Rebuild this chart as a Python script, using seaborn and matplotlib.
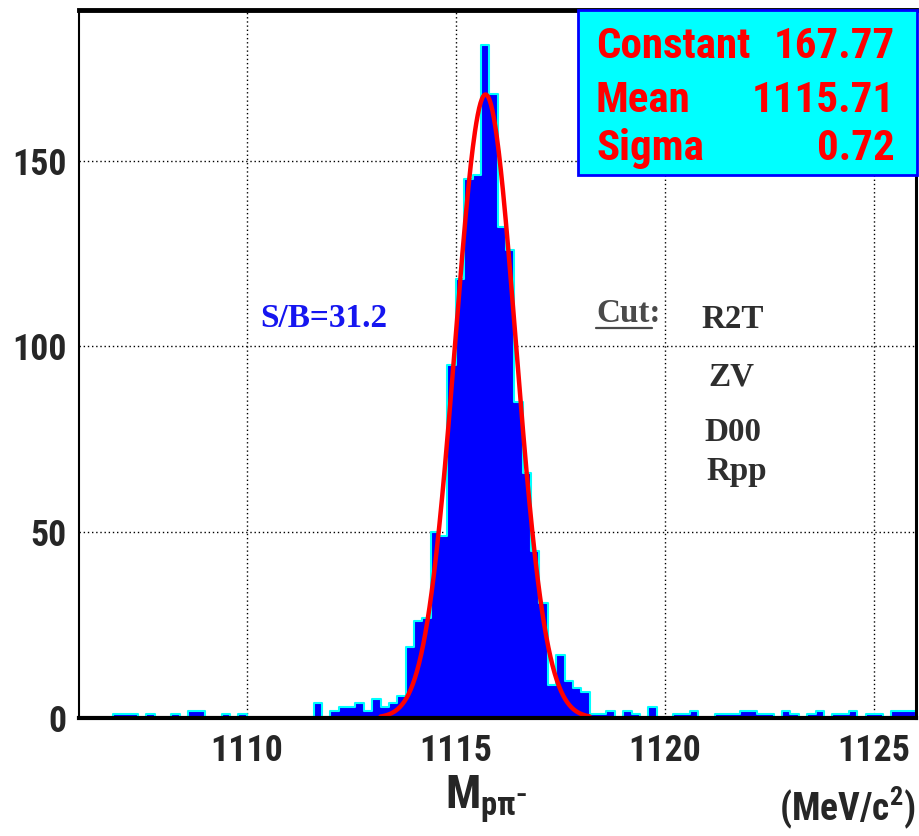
import numpy as np
import pandas as pd
import matplotlib
matplotlib.use("Agg")
import matplotlib.pyplot as plt
import seaborn as sns
from matplotlib import font_manager
from matplotlib.font_manager import FontProperties
from matplotlib.textpath import TextPath
from matplotlib.patches import Rectangle
from matplotlib.lines import Line2D

# histogram: 100 bins of 0.2 MeV from 1106 to 1126
x_lo, x_hi, n_bins = 1106.0, 1126.0, 100
counts = [0, 0, 0, 0, 1, 1, 1, 0, 1, 0,
          0, 1, 0, 2, 2, 0, 0, 1, 0, 1,
          0, 0, 0, 0, 0, 0, 0, 0, 4, 0,
          2, 3, 3, 4, 2, 5, 3, 4, 6, 19,
          26, 27, 50, 49, 95, 118, 145, 146, 181, 168,
          132, 126, 85, 66, 45, 31, 9, 17, 10, 8,
          7, 1, 1, 2, 0, 2, 1, 0, 3, 0,
          0, 1, 1, 2, 0, 0, 1, 1, 1, 2,
          2, 1, 1, 0, 2, 1, 0, 1, 2, 0,
          1, 1, 2, 0, 1, 1, 0, 2, 2, 2]

# gaussian fit shown in the stat box
fit_names = ["Constant", "Mean", "Sigma"]
fit_values = ["167.77", "1115.71", "0.72"]
fit_const, fit_mean, fit_sigma = 167.77, 1115.71, 0.72
fit_lo, fit_hi = 1113.2, 1118.2

cut_names = ["R2T", "ZV", "D00", "Rpp"]

edges = np.linspace(x_lo, x_hi, n_bins + 1)
hist = pd.DataFrame({"mass": (edges[:-1] + edges[1:]) / 2, "n": counts})

fx = np.linspace(fit_lo, fit_hi, 300)
fit = pd.DataFrame({"mass": fx,
                    "n": fit_const * np.exp(-0.5 * ((fx - fit_mean) / fit_sigma) ** 2)})

# pick the narrowest sans font that is installed (the original is a narrow Helvetica)
installed = {(f.name, f.stretch) for f in font_manager.fontManager.ttflist}
names = {n for n, s in installed}
sans, stretch = "Liberation Sans", "normal"
for cand in ["Liberation Sans Narrow", "Roboto Condensed", "Open Sans Condensed"]:
    if cand in names:
        sans = cand
        break
else:
    if ("DejaVu Sans", "condensed") in installed:
        sans, stretch = "DejaVu Sans", "condensed"
serif = "Liberation Serif"

def size_for(text, width_px, family, cap_pt, weight="bold", st="normal"):
    # font size that gives the text the width seen in the reference
    prop = FontProperties(family=family, weight=weight, stretch=st)
    w = TextPath((0, 0), text, size=10, prop=prop).get_extents().width * 100 / 72
    return min(10 * width_px / w, cap_pt)

sns.set_style("white")
plt.rcParams['font.family'] = [sans, 'DejaVu Sans']
plt.rcParams['font.stretch'] = stretch
plt.rcParams['font.weight'] = 'bold'
plt.rcParams['mathtext.fontset'] = 'custom'
plt.rcParams['mathtext.rm'] = sans + ':bold'
plt.rcParams['mathtext.bf'] = sans + ':bold'
plt.rcParams['mathtext.it'] = sans + ':italic:bold'

box_size = size_for("Constant", 152, sans, 31, st=stretch)
tick_size = size_for("1110", 62, sans, 28, st=stretch) * 1.1
serif_size = size_for("S/B=31.2", 118, serif, 25) * 1.05
cut_size = size_for("R2T", 57, serif, 25) * 1.08

W, H = 919, 836
fig = plt.figure(figsize=(W / 100, H / 100), dpi=100)
ax = fig.add_axes([79.3 / W, 1 - 718 / H, (916 - 79.3) / W, (718 - 10) / H])

def px(x, y):
    return x / W, 1 - y / H

ax.grid(True, which="major", color="black", linestyle=(0, (1, 2)), linewidth=1)
ax.set_axisbelow(True)

sns.histplot(data=hist, x="mass", weights="n", binwidth=0.2, binrange=(x_lo, x_hi),
             element="step", fill=True, color="#0000ff", edgecolor="#00ffff",
             linewidth=1.5, alpha=1, ax=ax)
sns.lineplot(data=fit, x="mass", y="n", color="#ff0000", linewidth=3.2, ax=ax)

ax.set_xlim(x_lo, x_hi)
ax.set_ylim(0, 190.5)
ax.set_xticks([1110, 1115, 1120, 1125])
ax.set_xticks(np.arange(1107, 1126, 1), minor=True)
ax.set_yticks([0, 50, 100, 150])
ax.set_yticks(np.arange(10, 190, 10), minor=True)
ax.tick_params(which="major", direction="in", length=16, width=1.2, labelsize=tick_size)
ax.tick_params(which="minor", direction="in", length=9, width=1.2)
ax.tick_params(axis="x", pad=11)
ax.tick_params(axis="y", pad=9)
ax.set_xlabel("")
ax.set_ylabel("")
for side, lw in [("bottom", 3.0), ("top", 3.5), ("left", 1.5), ("right", 2.2)]:
    ax.spines[side].set_visible(True)
    ax.spines[side].set_color("black")
    ax.spines[side].set_linewidth(lw)

# stat box
box = Rectangle(px(578, 175), (917 - 578) / W, (175 - 10) / H, transform=fig.transFigure,
                facecolor="#00ffff", edgecolor="#0000ff", linewidth=2, zorder=5)
fig.add_artist(box)
for name, val, yb in zip(fit_names, fit_values, [58, 112, 160]):
    fig.text(*px(596, yb), name, color="#ff0000", fontsize=box_size,
             ha="left", va="baseline", zorder=6)
    fig.text(*px(895, yb), val, color="#ff0000", fontsize=box_size,
             ha="right", va="baseline", zorder=6)

# annotations
fig.text(*px(260, 327), "S/B=31.2", color="#1515f0", fontsize=serif_size,
         family=serif, ha="left", va="baseline")
fig.text(*px(596, 322), "Cut:", color="#4a4a4a", fontsize=cut_size,
         family=serif, ha="left", va="baseline")
fig.add_artist(Line2D([596 / W, 652 / W], [1 - 328 / H, 1 - 328 / H],
                      transform=fig.transFigure, color="#4a4a4a", linewidth=1.6))
for name, xl, yb in zip(cut_names, [701, 708, 704, 706], [328, 385, 441, 480]):
    fig.text(*px(xl, yb), name, color="#2e2e2e", fontsize=cut_size,
             family=serif, ha="left", va="baseline")

# axis titles
fig.text(*px(486, 810), r"$\mathbf{M}_{\mathbf{p\pi^{-}}}$", fontsize=tick_size * 1.3,
         ha="center", va="baseline")
fig.text(*px(916, 820), r"$\mathbf{(MeV/c^{2})}$", fontsize=tick_size * 1.05,
         ha="right", va="baseline")

fig.savefig("out.png", dpi=100)
